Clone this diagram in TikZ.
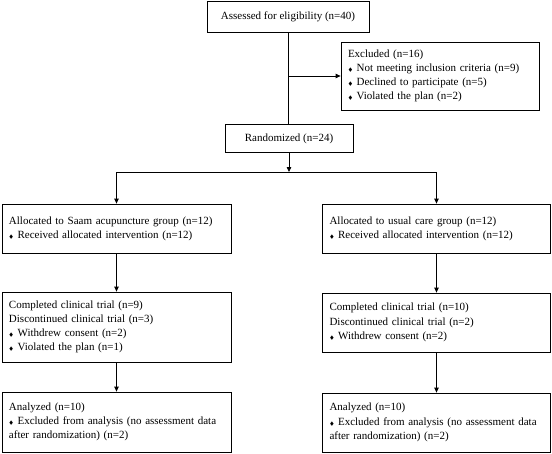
\documentclass[tikz,border=0pt]{standalone}
\usepackage{fontspec}
\usepackage{amssymb}
\setmainfont{Liberation Serif}
\usetikzlibrary{arrows.meta}
\newcommand{\bul}{{\tiny$\blacklozenge$}\hspace{0.35em}}
\begin{document}
\begin{tikzpicture}[x=1pt,y=-1pt,
  font=\fontsize{11}{14.2}\selectfont,
  box/.style={draw, line width=0.8pt, inner xsep=7pt, inner ysep=0pt, align=left, minimum width=#1, text width=#1-14pt},
  cbox/.style={draw, line width=0.8pt, inner sep=0pt, align=center},
  conn/.style={line width=0.8pt},
  arr/.style={conn, -{Triangle[length=5pt,width=4.5pt]}}]
\useasboundingbox (0,0) rectangle (552,453);
\node[cbox, minimum width=162pt, minimum height=31pt] (assess) at (288,16.5) {Assessed for eligibility (n=40)};
\node[box=198pt, minimum height=68pt] (excl) at (440,76) {Excluded (n=16)\\
\bul Not meeting inclusion criteria (n=9)\\
\bul Declined to participate (n=5)\\
\bul Violated the plan (n=2)};
\node[cbox, minimum width=128pt, minimum height=28pt] (rand) at (289,138.5) {Randomized (n=24)};
\node[box=229pt, minimum height=49pt] (allocL) at (116.5,228.5) {Allocated to Saam acupuncture group (n=12)\\
\bul Received allocated intervention (n=12)};
\node[box=228pt, minimum height=49pt] (allocR) at (436.5,228.5) {Allocated to usual care group (n=12)\\
\bul Received allocated intervention (n=12)};
\node[box=229pt, minimum height=70pt] (compL) at (116.5,327) {Completed clinical trial (n=9)\\
Discontinued clinical trial (n=3)\\
\bul Withdrew consent (n=2)\\
\bul Violated the plan (n=1)};
\node[box=228pt, minimum height=59pt] (compR) at (436.5,322.5) {Completed clinical trial (n=10)\\
Discontinued clinical trial (n=2)\\
\bul Withdrew consent (n=2)};
\node[box=229pt, minimum height=60pt] (anaL) at (116.5,422) {Analyzed (n=10)\\
\bul Excluded from analysis (no assessment data\\
after randomization) (n=2)};
\node[box=228pt, minimum height=59pt] (anaR) at (436.5,422.5) {Analyzed (n=10)\\
\bul Excluded from analysis (no assessment data\\
after randomization) (n=2)};
\coordinate (split) at (289,172);
\coordinate (splitL) at (allocL.north |- split);
\coordinate (splitR) at (allocR.north |- split);
\coordinate (exclJ) at (assess.south |- excl.west);
\draw[conn] (assess.south) -- (assess.south |- rand.north);
\draw[arr] (exclJ) -- (excl.west);
\draw[arr] (rand.south) -- (split);
\draw[conn] (splitL) -- (splitR);
\draw[arr] (splitL) -- (allocL.north);
\draw[arr] (splitR) -- (allocR.north);
\draw[arr] (allocL.south) -- (compL.north);
\draw[arr] (allocR.south) -- (compR.north);
\draw[arr] (compL.south) -- (anaL.north);
\draw[arr] (compR.south) -- (anaR.north);
\end{tikzpicture}
\end{document}
